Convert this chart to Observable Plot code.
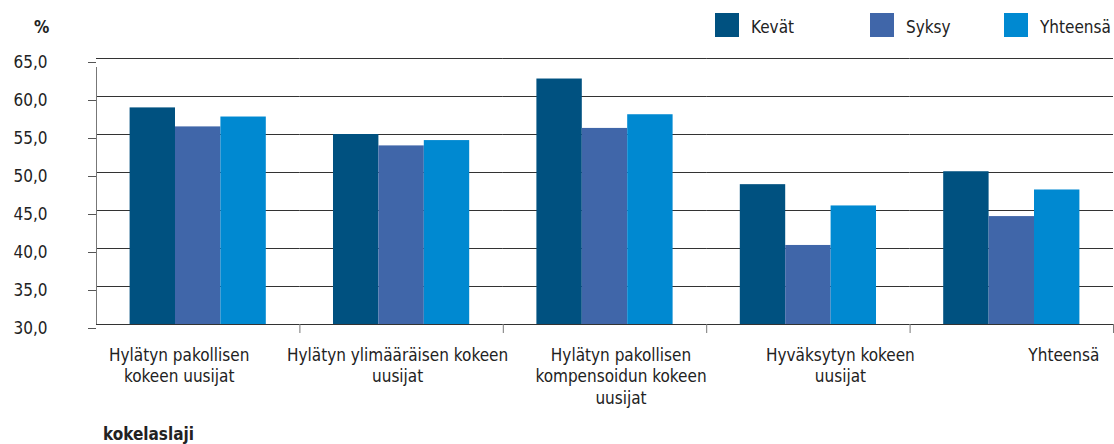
<!DOCTYPE html>
<html>
<head>
<meta charset="utf-8">
<script src="https://cdn.jsdelivr.net/npm/d3@7"></script>
<script src="https://cdn.jsdelivr.net/npm/@observablehq/plot@0.6"></script>
<style>
  body { margin: 0; background: #fff; }
  #wrap { position: relative; width: 1114px; height: 444px; font-family: "DejaVu Sans Condensed", "DejaVu Sans", sans-serif; font-stretch: condensed; color: #222; }
  #chart { position: absolute; left: 0; top: 0; }
  .abs { position: absolute; white-space: nowrap; }
  .sw { position: absolute; width: 24px; height: 24px; }
  .lt { position: absolute; font-size: 17px; line-height: 20px; }
  .bold { font-weight: bold; font-size: 17px; }
</style>
</head>
<body>
<div id="wrap">
  <div id="chart"></div>
  <div class="abs bold" style="left:34px; top:17px;">%</div>
  <div class="abs bold" style="left:103px; top:424px;">kokelaslaji</div>
  <div id="legend"></div>
</div>
<script>
const groups = [
  "Hylätyn pakollisen kokeen uusijat",
  "Hylätyn ylimääräisen kokeen uusijat",
  "Hylätyn pakollisen kompensoidun kokeen uusijat",
  "Hyväksytyn kokeen uusijat",
  "Yhteensä"
];
const groupLabels = [
  "Hylätyn pakollisen\nkokeen uusijat",
  "Hylätyn ylimääräisen kokeen\nuusijat",
  "Hylätyn pakollisen\nkompensoidun kokeen\nuusijat",
  "Hyväksytyn kokeen\nuusijat",
  "Yhteensä"
];
const series = ["Kevät", "Syksy", "Yhteensä"];
const kevat    = [58.5, 55.0, 62.3, 48.4, 50.1];
const syksy    = [56.0, 53.5, 55.8, 40.4, 44.2];
const yhteensa = [57.3, 54.2, 57.6, 45.6, 47.7];
const yTicks = [30, 35, 40, 45, 50, 55, 60, 65];
const colors = ["#005180", "#4066a9", "#0089d1"];

// label horizontal shifts (style), mimicking the original layout
const labelShift = [-19, -4, 16, 32, 52];

const valuesBySeries = [kevat, syksy, yhteensa];
const rows = groups.flatMap((g, i) => series.map((s, j) => ({group: g, series: s, value: valuesBySeries[j][i]})));

const width = 1114, height = 444;
const marginLeft = 96, marginRight = 1, marginTop = 58, marginBottom = 120;
const padOuter = 0.74;
const facetW = (width - marginLeft - marginRight) / groups.length;
const step = facetW / (series.length + 2 * padOuter);
const edge = step * (padOuter + 0.5); // distance from facet edge to first band centre

const font = '"DejaVu Sans Condensed", "DejaVu Sans", sans-serif';

const marks = [
  Plot.ruleY(yTicks, {stroke: "#333", strokeWidth: 1}),
  Plot.barY(rows, {fx: "group", x: "series", y1: 30, y2: "value", fill: "series"}),
  // y axis line
  Plot.ruleX([groups[0]], {fx: d => d, x: () => series[0], y1: 30, y2: 65, dx: -edge, stroke: "#777", insetBottom: -9}),
  // category boundary ticks
  Plot.ruleX(groups.slice(1), {fx: d => d, x: () => series[0], y1: 30, y2: 30, dx: -edge, stroke: "#777", insetBottom: -9}),
  Plot.ruleX([groups[groups.length - 1]], {fx: d => d, x: () => series[series.length - 1], y1: 30, y2: 30, dx: edge, stroke: "#777", insetBottom: -9}),
  Plot.axisY({ticks: yTicks, tickSize: 8, tickPadding: 41, stroke: "#555", fontSize: 17, fill: "#222",
    tickFormat: d => d.toFixed(1).replace(".", ","), label: null, dy: 4}),
  ...groups.map((g, i) => Plot.text([g], {
    fx: d => d, x: () => series[1], frameAnchor: "bottom", lineAnchor: "top",
    text: () => groupLabels[i], dy: 21, dx: labelShift[i], fontSize: 17, fill: "#222", lineHeight: 1.27
  }))
];

const chart = Plot.plot({
  width, height, marginLeft, marginRight, marginTop, marginBottom,
  style: {fontFamily: font, fontStretch: "condensed", background: "#fff", overflow: "visible"},
  fx: {domain: groups, paddingInner: 0, paddingOuter: 0, axis: null, round: false},
  x: {domain: series, paddingInner: 0, paddingOuter: padOuter, axis: null, round: false},
  y: {domain: [30, 65]},
  color: {domain: series, range: colors},
  marks
});
document.getElementById("chart").appendChild(chart);

const legendPos = [715, 870, 1004];
const legend = document.getElementById("legend");
series.forEach((s, i) => {
  const sw = document.createElement("div");
  sw.className = "sw";
  sw.style.left = legendPos[i] + "px";
  sw.style.top = "13px";
  sw.style.background = colors[i];
  legend.appendChild(sw);
  const t = document.createElement("div");
  t.className = "lt";
  t.style.left = (legendPos[i] + 36) + "px";
  t.style.top = "17px";
  t.textContent = s;
  legend.appendChild(t);
});
</script>
</body>
</html>
